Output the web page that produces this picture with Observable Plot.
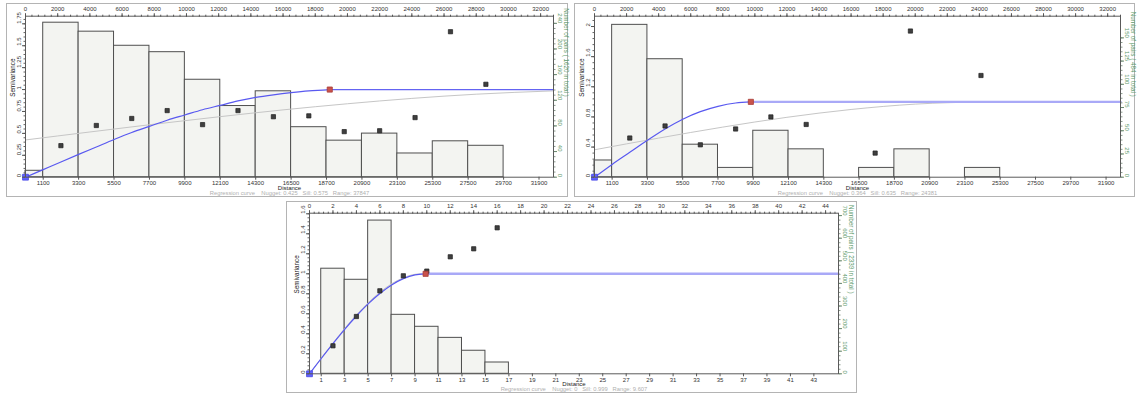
<!DOCTYPE html>
<html>
<head>
<meta charset="utf-8">
<script src="https://cdn.jsdelivr.net/npm/d3@7"></script>
<script src="https://cdn.jsdelivr.net/npm/@observablehq/plot@0.6"></script>
<style>
  html, body { margin: 0; padding: 0; background: #fff; }
  #page { position: relative; width: 1139px; height: 394px; overflow: hidden; }
  .panel { position: absolute; border: 1px solid #b4b4b4; background: #fff; }
  .panel svg { display: block; overflow: visible; }
</style>
</head>
<body>
<div id="page">
  <div class="panel" id="p1" style="left:6px;top:3px;width:560px;height:192px;"></div>
  <div class="panel" id="p2" style="left:574px;top:3px;width:559px;height:192px;"></div>
  <div class="panel" id="p3" style="left:286px;top:201px;width:569px;height:190px;"></div>
</div>
<script>
// ---------------- Panel 1 data ----------------
const p1BinEdges = [0, 1100, 3300, 5500, 7700, 9900, 12100, 14300, 16500, 18700, 20900, 23100, 25300, 27500, 29700];
const p1Pairs    = [10, 241, 227, 205, 195, 152, 111, 134, 78, 57, 68, 37, 56, 49];
const p1PointX   = [2200, 4400, 6600, 8800, 11000, 13200, 15400, 17600, 19800, 22000, 24200, 26400, 28600];
const p1PointY   = [0.36, 0.59, 0.67, 0.76, 0.60, 0.76, 0.69, 0.70, 0.52, 0.53, 0.68, 1.66, 1.06];
const p1BlueX    = [0, 1100, 2200, 3300, 4400, 5500, 6600, 7700, 8800, 9900, 11000, 12100, 13200, 14300, 15400, 16500, 17600, 18700, 18900];
const p1BlueY    = [0, 0.087, 0.174, 0.26, 0.345, 0.43, 0.51, 0.58, 0.65, 0.71, 0.77, 0.82, 0.87, 0.91, 0.94, 0.965, 0.985, 0.997, 1.0];
const p1FlatX    = [18900, 32800];
const p1FlatY    = [1.0, 1.0];
const p1GreyX    = [0, 4000, 8000, 12000, 16000, 20000, 24000, 28000, 32800];
const p1GreyY    = [0.425, 0.516, 0.605, 0.689, 0.768, 0.838, 0.899, 0.947, 0.985];
const p1Red      = [18900, 1.0];
const p1TopTicks = [0, 2000, 4000, 6000, 8000, 10000, 12000, 14000, 16000, 18000, 20000, 22000, 24000, 26000, 28000, 30000, 32000];
const p1BottomTicks = [1100, 3300, 5500, 7700, 9900, 12100, 14300, 16500, 18700, 20900, 23100, 25300, 27500, 29700, 31900];
const p1LeftTicks = [0, 0.25, 0.5, 0.75, 1, 1.25, 1.5, 1.75];
const p1PairTicks = [0, 40, 80, 120, 160, 200, 240];
const p1PairsTitle = "Number of pairs ( 1620 in total )";
const p1Footer = "Regression curve    Nugget: 0.425   Sill: 0.575   Range: 37847";

// ---------------- Panel 2 data ----------------
const p2BinEdges = [0, 1100, 3300, 5500, 7700, 9900, 12100, 14300, 16500, 18700, 20900, 23100, 25300];
const p2Pairs    = [18, 164, 127, 35, 10, 50, 30, 0, 10, 30, 0, 10];
const p2PointX   = [2200, 4400, 6600, 8800, 11000, 13200, 17500, 19700, 24100];
const p2PointY   = [0.52, 0.68, 0.43, 0.64, 0.80, 0.70, 0.32, 1.94, 1.35];
const p2BlueX    = [0, 1100, 2200, 3300, 4400, 5500, 6600, 7700, 8800, 9750];
const p2BlueY    = [0, 0.17, 0.33, 0.49, 0.64, 0.77, 0.87, 0.94, 0.985, 1.0];
const p2FlatX    = [9750, 32800];
const p2FlatY    = [1.0, 1.0];
const p2GreyX    = [0, 4000, 8000, 12000, 16000, 20000, 24400];
const p2GreyY    = [0.364, 0.519, 0.665, 0.795, 0.899, 0.97, 1.0];
const p2Red      = [9750, 1.0];
const p2TopTicks = p1TopTicks;
const p2BottomTicks = p1BottomTicks;
const p2LeftTicks = [0, 0.4, 0.8, 1.2, 1.6, 2];
const p2PairTicks = [0, 25, 50, 75, 100, 125, 150];
const p2PairsTitle = "Number of pairs ( 484 in total )";
const p2Footer = "Regression curve    Nugget: 0.364   Sill: 0.635   Range: 24381";

// ---------------- Panel 3 data ----------------
const p3BinEdges = [1, 3, 5, 7, 9, 11, 13, 15, 17];
const p3Pairs    = [465, 416, 678, 261, 208, 159, 102, 50];
const p3PointX   = [2, 4, 6, 8, 10, 12, 14, 16];
const p3PointY   = [0.28, 0.573, 0.83, 0.98, 1.027, 1.17, 1.25, 1.46];
const p3BlueX    = [0, 1, 2, 3, 4, 5, 6, 7, 8, 9, 9.8];
const p3BlueY    = [0, 0.153, 0.302, 0.445, 0.578, 0.699, 0.803, 0.889, 0.952, 0.99, 1.0];
const p3FlatX    = [9.8, 45.1];
const p3FlatY    = [1.0, 1.0];
const p3GreyX    = [0, 1, 2, 3, 4, 5, 6, 7, 8, 9, 9.6];
const p3GreyY    = [0, 0.156, 0.307, 0.453, 0.59, 0.71, 0.815, 0.9, 0.96, 0.995, 1.0];
const p3Red      = [9.9, 1.0];
const p3TopTicks = [0, 2, 4, 6, 8, 10, 12, 14, 16, 18, 20, 22, 24, 26, 28, 30, 32, 34, 36, 38, 40, 42, 44];
const p3BottomTicks = [1, 3, 5, 7, 9, 11, 13, 15, 17, 19, 21, 23, 25, 27, 29, 31, 33, 35, 37, 39, 41, 43];
const p3LeftTicks = [0, 0.2, 0.4, 0.6, 0.8, 1, 1.2, 1.4, 1.6];
const p3PairTicks = [0, 100, 200, 300, 400, 500, 600, 700];
const p3PairsTitle = "Number of pairs ( 2339 in total )";
const p3Footer = "Regression curve    Nugget: 0   Sill: 0.999   Range: 9.607";

// ---------------- drawing ----------------
const FONT = "'Liberation Sans', Arial, sans-serif";
const GREEN = "#5e9a6c";
const zip = (xs, ys) => xs.map((x, i) => ({x, y: ys[i]}));
const range = (a, b, s) => { const out = []; for (let v = a; v <= b + 1e-9; v += s) out.push(+v.toFixed(6)); return out; };
const fmt = d => String(+(+d).toFixed(3));

function panel(c) {
  const bins = c.pairs.map((n, i) => ({x1: c.edges[i], x2: c.edges[i + 1], n})).filter(b => b.n > 0);
  const k = c.k;
  const minorRight = range(0, c.pairTicks[c.pairTicks.length - 1] * 1.02, c.pairMinor).filter(v => v * k <= c.yMax);
  return Plot.plot({
    width: c.width, height: c.height,
    marginLeft: c.ml, marginRight: c.mr, marginTop: c.mt, marginBottom: c.mb,
    style: {fontFamily: FONT, fontSize: "6px", color: "#333", background: "white", overflow: "visible"},
    x: {domain: [0, c.xMax], axis: null},
    y: {domain: [0, c.yMax], axis: null},
    marks: [
      Plot.rect(bins, {x1: "x1", x2: "x2", y1: 0, y2: d => d.n * k, fill: "#f3f4f1", stroke: "#4f4f4f", strokeWidth: 1}),
      Plot.line(zip(c.greyX, c.greyY), {x: "x", y: "y", stroke: "#c6c6c6", strokeWidth: 1, curve: "monotone-x"}),
      Plot.line(zip(c.flatX, c.flatY), {x: "x", y: "y", stroke: c.flatColor, strokeWidth: c.flatWidth}),
      Plot.line(zip(c.blueX, c.blueY), {x: "x", y: "y", stroke: "#5959f0", strokeWidth: 1.2, curve: "monotone-x"}),
      Plot.dot(zip(c.px, c.py), {x: "x", y: "y", symbol: "square", r: 2.4, fill: "#3f3f3f", stroke: "#1f1f1f", strokeWidth: 0.7}),
      Plot.dot([{x: 0, y: 0}], {x: "x", y: "y", symbol: "square", r: 3.3, fill: "#6262ff", stroke: "#4545e6", strokeWidth: 0.8}),
      Plot.dot([{x: c.red[0], y: c.red[1]}], {x: "x", y: "y", symbol: "square", r: 2.9, fill: "#c9534c", stroke: "#a83b36", strokeWidth: 0.8}),
      Plot.frame({stroke: "#5a5a5a"}),
      // top axis
      Plot.axisX(c.topMinor, {anchor: "top", tickSize: 2, tickFormat: () => "", label: null, stroke: "#555"}),
      Plot.axisX(c.topTicks, {anchor: "top", tickSize: 3.5, tickPadding: 1.5, tickFormat: d => String(d), label: null, stroke: "#555", fill: "#333"}),
      // bottom axis
      Plot.axisX(c.bottomTicks, {anchor: "bottom", tickSize: 3, tickPadding: 0.5, tickFormat: d => String(d), label: null, stroke: "#555", fill: "#333"}),
      // left axis
      Plot.axisY(c.leftMinor, {anchor: "left", tickSize: 1.5, tickFormat: () => "", label: null, stroke: "#666"}),
      Plot.axisY(c.leftTicks, {anchor: "left", tickSize: 3, tickFormat: () => "", label: null, stroke: "#555"}),
      Plot.text(c.leftTicks, {y: d => d, text: fmt, frameAnchor: "left", dx: -6.5, rotate: -90, fill: "#333"}),
      Plot.text(["Semivariance"], {text: d => d, frameAnchor: "left", dx: -12.5, rotate: -90, fill: "#222", fontSize: 6.3}),
      // right axis (number of pairs)
      Plot.axisY(minorRight.map(v => v * k), {anchor: "right", tickSize: 1.5, tickFormat: () => "", label: null, stroke: "#8a9a8c"}),
      Plot.axisY(c.pairTicks.map(v => v * k), {anchor: "right", tickSize: 3, tickFormat: () => "", label: null, stroke: "#6a8a70"}),
      Plot.text(c.pairTicks, {y: d => d * k, text: d => String(d), frameAnchor: "right", dx: 6.5, rotate: 90, fill: GREEN}),
      Plot.text([c.pairsTitle], {text: d => d, frameAnchor: "right", dx: 12.5, rotate: 90, fill: GREEN, fontSize: 6.3}),
      // labels under
      Plot.text(["Distance"], {text: d => d, frameAnchor: "bottom", dy: 12.3, fill: "#222", fontSize: 6}),
      Plot.text([c.footer], {text: d => d, frameAnchor: "bottom", dy: 17.6, fill: "#b0b0b0", fontSize: 5.8})
    ]
  });
}

document.getElementById("p1").appendChild(panel({
  width: 560, height: 192, ml: 18, mr: 14, mt: 11.7, mb: 19.3,
  xMax: 32800, yMax: 1.837, k: 0.007315,
  edges: p1BinEdges, pairs: p1Pairs, px: p1PointX, py: p1PointY,
  blueX: p1BlueX, blueY: p1BlueY, flatX: p1FlatX, flatY: p1FlatY, flatColor: "#6464f2", flatWidth: 1.2,
  greyX: p1GreyX, greyY: p1GreyY, red: p1Red,
  topTicks: p1TopTicks, topMinor: range(0, 32800, 400), bottomTicks: p1BottomTicks,
  leftTicks: p1LeftTicks, leftMinor: range(0, 1.8, 0.05),
  pairTicks: p1PairTicks, pairMinor: 8, pairsTitle: p1PairsTitle, footer: p1Footer
}));

document.getElementById("p2").appendChild(panel({
  width: 559, height: 192, ml: 19, mr: 14, mt: 11.7, mb: 19.3,
  xMax: 32800, yMax: 2.137, k: 0.01233,
  edges: p2BinEdges, pairs: p2Pairs, px: p2PointX, py: p2PointY,
  blueX: p2BlueX, blueY: p2BlueY, flatX: p2FlatX, flatY: p2FlatY, flatColor: "#a9a9f7", flatWidth: 2.4,
  greyX: p2GreyX, greyY: p2GreyY, red: p2Red,
  topTicks: p2TopTicks, topMinor: range(0, 32800, 400), bottomTicks: p2BottomTicks,
  leftTicks: p2LeftTicks, leftMinor: range(0, 2.12, 0.08),
  pairTicks: p2PairTicks, pairMinor: 5, pairsTitle: p2PairsTitle, footer: p2Footer
}));

document.getElementById("p3").appendChild(panel({
  width: 569, height: 190, ml: 22, mr: 18, mt: 10.7, mb: 18.7,
  xMax: 45.1, yMax: 1.606, k: 0.00226,
  edges: p3BinEdges, pairs: p3Pairs, px: p3PointX, py: p3PointY,
  blueX: p3BlueX, blueY: p3BlueY, flatX: p3FlatX, flatY: p3FlatY, flatColor: "#a9a9f7", flatWidth: 2.4,
  greyX: p3GreyX, greyY: p3GreyY, red: p3Red,
  topTicks: p3TopTicks, topMinor: range(0, 45, 0.4), bottomTicks: p3BottomTicks,
  leftTicks: p3LeftTicks, leftMinor: range(0, 1.6, 0.04),
  pairTicks: p3PairTicks, pairMinor: 20, pairsTitle: p3PairsTitle, footer: p3Footer
}));
</script>
</body>
</html>
